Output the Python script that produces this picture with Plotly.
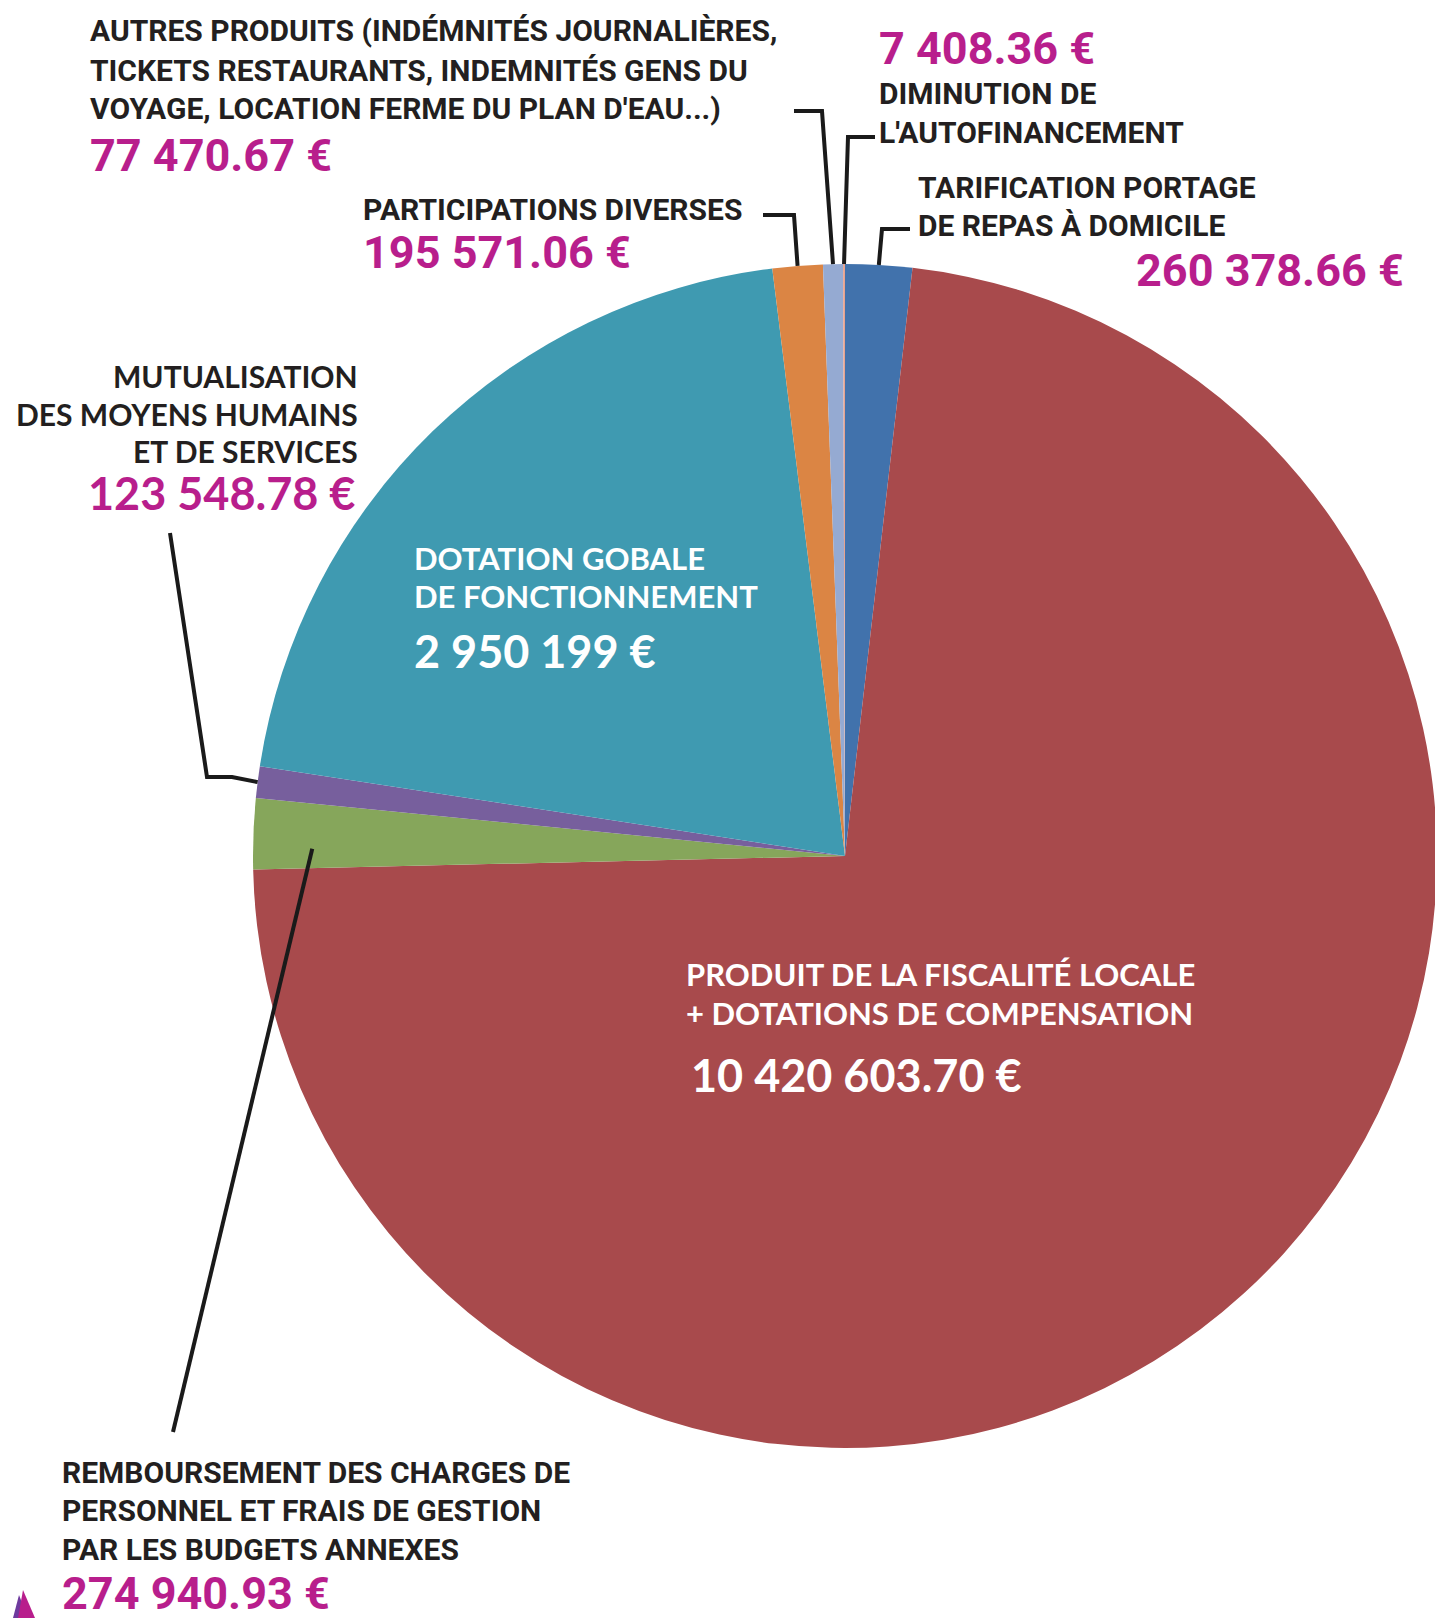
import math
import plotly.graph_objects as go

# ---------------- data ----------------
categories = [
    "Tarification portage de repas à domicile",
    "Produit de la fiscalité locale + dotations de compensation",
    "Remboursement des charges de personnel et frais de gestion par les budgets annexes",
    "Mutualisation des moyens humains et de services",
    "Dotation gobale de fonctionnement",
    "Participations diverses",
    "Autres produits",
    "Diminution de l'autofinancement",
]
values = [260378.66, 10420603.70, 274940.93, 123548.78, 2950199.00, 195571.06, 77470.67, 7408.36]
value_labels = ["260 378.66 €", "10 420 603.70 €", "274 940.93 €", "123 548.78 €",
                "2 950 199 €", "195 571.06 €", "77 470.67 €", "7 408.36 €"]
label_lines = [
    ["TARIFICATION PORTAGE", "DE REPAS À DOMICILE"],
    ["PRODUIT DE LA FISCALITÉ LOCALE", "+ DOTATIONS DE COMPENSATION"],
    ["REMBOURSEMENT DES CHARGES DE", "PERSONNEL ET FRAIS DE GESTION", "PAR LES BUDGETS ANNEXES"],
    ["MUTUALISATION", "DES MOYENS HUMAINS", "ET DE SERVICES"],
    ["DOTATION GOBALE", "DE FONCTIONNEMENT"],
    ["PARTICIPATIONS DIVERSES"],
    ["AUTRES PRODUITS (INDÉMNITÉS JOURNALIÈRES,", "TICKETS RESTAURANTS, INDEMNITÉS GENS DU",
     "VOYAGE, LOCATION FERME DU PLAN D'EAU...)"],
    ["DIMINUTION DE", "L'AUTOFINANCEMENT"],
]
colors = ["#4172AC", "#A84A4C", "#86A65B", "#775F9D", "#3F9AB1", "#DB8544", "#95AAD2", "#E7A38F"]

# ---------------- layout constants ----------------
# figure is slightly wider than the 1435px window so the pie may bleed past the right edge
W, H = 1442, 1618
CX, CY, R = 845.0, 856.0, 592.0
DARK = "#231F20"
MAG = "#B81E8C"
NARROW = "Roboto, Liberation Sans, sans-serif"
WIDE = "Lato, Open Sans, sans-serif"


def px(x):
    return x / W


def py(y):
    return 1 - y / H


fig = go.Figure(go.Pie(
    labels=categories, values=values, sort=False, direction="clockwise", rotation=0,
    marker=dict(colors=colors, line=dict(width=0)), textinfo="none", hoverinfo="label+value",
    domain=dict(x=[px(CX - R), px(CX + R)], y=[py(CY + R), py(CY - R)]), showlegend=False,
))

annotations = []


def add_text(txt, x, y, size, color, font, anchor="left"):
    annotations.append(dict(
        text=txt, x=px(x), y=py(y), xref="paper", yref="paper", xanchor=anchor, yanchor="middle",
        showarrow=False, font=dict(family=font, size=size, color=color, weight="bold"),
    ))


# text block placement
blocks = [
    (0, 916, "left", [188, 226], 271, 1406, "right", NARROW, 30, NARROW, 45, DARK, MAG),
    (1, 684, "left", [974, 1013], 1075, 689, "left", WIDE, 31, WIDE, 45, "white", "white"),
    (2, 60, "left", [1472, 1510, 1549], 1593, 60, "left", NARROW, 30, NARROW, 45, DARK, MAG),
    (3, 360, "right", [376, 414, 451], 493, 357, "right", WIDE, 30, WIDE, 45, DARK, MAG),
    (4, 412, "left", [558, 596], 651, 412, "left", WIDE, 31, WIDE, 45, "white", "white"),
    (5, 361, "left", [210], 253, 361, "left", NARROW, 30, NARROW, 45, DARK, MAG),
    (6, 88, "left", [31, 70, 108], 156, 88, "left", NARROW, 30, NARROW, 45, DARK, MAG),
    (7, 877, "left", [93, 132], 48, 877, "left", NARROW, 30, NARROW, 45, DARK, MAG),
]
for (i, x, anc, ys, vy, vx, vanc, lf, ls, vf, vs, lc, vc) in blocks:
    for line, y in zip(label_lines[i], ys):
        add_text(line, x, y, ls, lc, lf, anc)
    add_text(value_labels[i], vx, vy, vs, vc, vf, vanc)

# ---------------- leader lines ----------------
total = sum(values)
starts = []
acc = 0.0
for v in values:
    starts.append(acc)
    acc += v


def anchor_point(i, pos=0.5, rf=1.0):
    frac = (starts[i] + pos * values[i]) / total
    th = 2 * math.pi * frac
    return CX + R * rf * math.sin(th), CY - R * rf * math.cos(th)


# (slice index, position within slice, radius factor, fixed elbow points from label)
leaders = [
    (6, 0.5, 1.0, [(794, 111), (822, 111)]),
    (7, 0.5, 1.0, [(875, 137), (848, 137)]),
    (0, 0.5, 1.0, [(910, 229), (882, 229)]),
    (5, 0.5, 1.0, [(763, 215), (794, 215)]),
    (3, 0.5, 1.0, [(170, 533), (207, 777), (232, 777)]),
    (2, 0.3, 0.9, [(173, 1432)]),
]
shapes = []
for (i, pos, rf, pts) in leaders:
    ax, ay = anchor_point(i, pos, rf)
    allp = pts + [(ax, ay)]
    path = "M " + " L ".join(f"{px(x):.5f},{py(y):.5f}" for x, y in allp)
    shapes.append(dict(type="path", path=path, xref="paper", yref="paper",
                       line=dict(color="#1A1A1A", width=4)))

# small logo fragment at bottom-left corner
shapes.append(dict(type="path", xref="paper", yref="paper", fillcolor="#6E3A9E", line=dict(width=0),
                   path=f"M {px(13)},{py(1618)} L {px(19)},{py(1595)} L {px(28)},{py(1618)} Z"))
shapes.append(dict(type="path", xref="paper", yref="paper", fillcolor=MAG, line=dict(width=0),
                   path=f"M {px(18)},{py(1618)} L {px(23)},{py(1590)} L {px(35)},{py(1618)} Z"))

fig.update_layout(
    width=W, height=H, margin=dict(l=0, r=0, t=0, b=0),
    paper_bgcolor="white", plot_bgcolor="white",
    annotations=annotations, shapes=shapes,
)
fig.write_html("out.html", config={"displayModeBar": False},
               post_script="document.body.style.margin='0';document.body.style.overflow='hidden';")
